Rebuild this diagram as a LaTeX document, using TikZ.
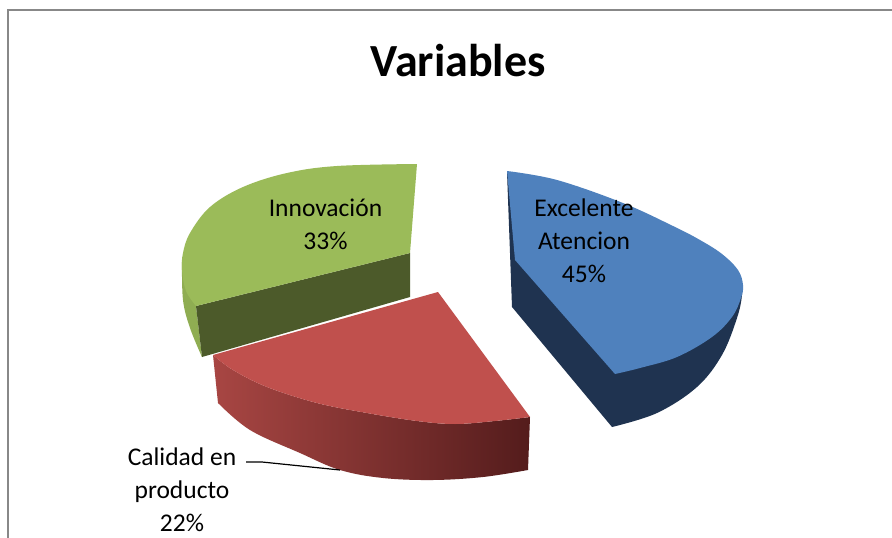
\documentclass[tikz,border=0pt]{standalone}
\usepackage{fontspec}
\setmainfont{Carlito}
\definecolor{gtop}{RGB}{155,187,89}
\definecolor{gside}{RGB}{143,173,82}
\definecolor{gdark}{RGB}{76,90,42}
\definecolor{btop}{RGB}{79,129,189}
\definecolor{bdark}{RGB}{31,51,80}
\definecolor{rtop}{RGB}{192,80,77}
\definecolor{rsideL}{RGB}{168,70,67}
\definecolor{rsideR}{RGB}{84,28,28}
\definecolor{frame}{RGB}{136,136,136}
\tikzset{
  lbl/.style={font=\fontsize{25.5}{33}\selectfont, align=center, anchor=base, inner sep=0pt, text=black},
  ttl/.style={font=\fontsize{46}{50}\selectfont\bfseries, anchor=base, inner sep=0pt},
  leader/.style={draw=black, line width=1.2pt},
}
\begin{document}
\begin{tikzpicture}[x=1pt,y=-1pt]
\useasboundingbox (0,0) rectangle (892,538);
\fill[white] (0,0) rectangle (892,538);

% ---- Green slice (Innovacion) ----
\fill[gside] (182,262) -- plot[smooth, tension=0.6] coordinates {(182,262) (183,300) (190,328) (202,357)} -- (196,306) -- cycle;
\fill[gdark] (410,253) -- (196,306) -- (202,357) -- (410,297) -- cycle;
\fill[gtop] (417,164) -- (410,253) -- (196,306)
  -- plot[smooth, tension=0.6] coordinates {(196,306) (186,291) (182,270) (183,253) (190,233) (210,207) (243,187) (287,173) (337,166) (417,164)} -- cycle;

% ---- Blue slice (Excelente Atencion) ----
\fill[bdark] (507,172) -- (512,307) -- (612,427)
  -- plot[smooth, tension=0.6] coordinates {(612,427) (657,413) (697,387) (722,355) (737,318) (742,295) (741,280)} -- cycle;
\fill[btop] (507,171) -- (515,260) -- (615,374)
  -- plot[smooth, tension=0.6] coordinates {(615,374) (640,368) (677,357) (712,337) (732,317) (741,298) (743,285) (738,270) (722,254) (700,240) (673,226) (623,203) (557,180) (507,171)} -- cycle;

% ---- Red slice (Calidad en producto) ----
\shade[left color=rsideL, right color=rsideR] (213,355)
  -- plot[smooth, tension=0.6] coordinates {(213,355) (233,370) (267,387) (317,403) (367,413) (417,421) (455,424) (495,421) (530,417)}
  -- (528,470)
  -- plot[smooth, tension=0.6] coordinates {(528,470) (483,477) (433,480) (383,478) (340,470) (300,453) (250,430) (218,403)} -- cycle;
\fill[rtop] (438,292) -- (530,417)
  -- plot[smooth, tension=0.6] coordinates {(530,417) (495,421) (455,424) (417,421) (367,413) (317,403) (267,387) (233,370) (213,355)} -- cycle;

% ---- Labels (anchor = baseline of the last line) ----
\node[lbl] (innov) at (325.5,249.5) {Innovación\\33\%};
\node[lbl] (exc) at (584,282) {Excelente\\Atencion\\45\%};
\node[lbl] (cal) at (182,531) {Calidad en\\producto\\22\%};
\coordinate (ls) at (246,462);
\coordinate (lk) at (262,462);
\coordinate (le) at (340,470);
\draw[leader] (ls) -- (lk) -- (le);

% ---- Title ----
\node[ttl] (title) at (458,76.7) {Variables};

% ---- Frame ----
\draw[frame, line width=2pt] (892,10) -- (8,10) -- (8,538);
\end{tikzpicture}
\end{document}
